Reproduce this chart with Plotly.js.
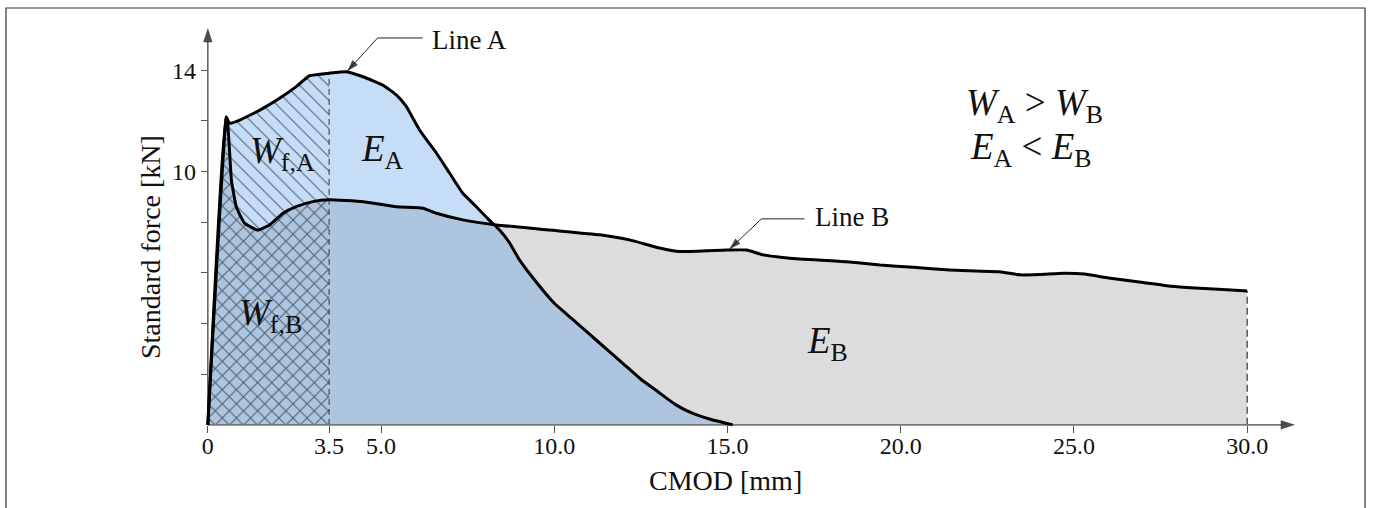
<!DOCTYPE html>
<html>
<head>
<meta charset="utf-8">
<script src="https://cdn.plot.ly/plotly-3.0.1.min.js"></script>
<style>html,body{margin:0;padding:0;background:#fff;}#chart{width:1373px;height:508px;}</style>
</head>
<body>
<div id="chart"></div>
<script>
// ---- data ----
const xA = [0, 0.53, 0.63, 0.92, 1.12, 1.59, 2.07, 2.55, 2.94, 3.5, 4.0, 4.48, 5.05, 5.44, 5.73, 6.11, 6.6, 6.98, 7.36, 7.75, 8.13, 8.42, 8.7, 9.0, 9.5, 10.0, 10.5, 11.0, 11.5, 12.0, 12.5, 13.0, 13.5, 14.0, 14.5, 15.15];
const yA = [0, 12.15, 11.9, 12.03, 12.16, 12.49, 12.89, 13.35, 13.78, 13.88, 13.94, 13.74, 13.41, 13.02, 12.56, 11.64, 10.72, 9.93, 9.14, 8.61, 8.07, 7.69, 7.2, 6.5, 5.6, 4.8, 4.2, 3.6, 3.0, 2.4, 1.8, 1.3, 0.8, 0.45, 0.22, 0];
const xB = [0, 0.53, 0.58, 0.63, 0.68, 0.82, 1.06, 1.44, 1.78, 2.17, 2.55, 3.03, 3.5, 4.48, 5.44, 6.21, 6.6, 7.36, 8.33, 9.87, 11.31, 12.17, 13.04, 13.62, 14.97, 15.55, 16.03, 16.8, 18.43, 19.4, 20.36, 21.42, 22.86, 23.43, 24.0, 24.7, 25.3, 26.0, 27.0, 27.8, 28.5, 29.3, 30.0];
const yB = [0, 12.15, 11.77, 10.72, 9.66, 8.61, 7.96, 7.69, 7.89, 8.35, 8.61, 8.81, 8.88, 8.81, 8.61, 8.55, 8.35, 8.09, 7.89, 7.69, 7.5, 7.3, 6.98, 6.84, 6.9, 6.9, 6.71, 6.58, 6.44, 6.31, 6.22, 6.11, 6.04, 5.92, 5.93, 5.98, 5.95, 5.8, 5.62, 5.47, 5.4, 5.34, 5.28];
const wLimit = 3.5;     // CMOD limit for W_f
const eLimit = 30.0;    // CMOD limit for E
const xTickVals = [0, 3.5, 5, 10, 15, 20, 25, 30];
const xTickText = ['0', '3.5', '5.0', '10.0', '15.0', '20.0', '25.0', '30.0'];
const yTickVals = [10, 14];
const yTickText = ['10', '14'];
const yMinorVals = [2, 4, 6, 8, 12];

// ---- layout helpers ----
const W = 1373, H = 508, ML = 194, MR = 60, MT = 22, MB = 73;
const PW = W - ML - MR, PH = H - MT - MB;
const xr = [-0.4, 31.9], yr = [-0.4, 15.9];
const px = v => (v - ML) / PW;
const py = v => (H - MB - v) / PH;
const FONT = 'Liberation Serif, Times New Roman, serif';

const subset = (xs, ys, lim) => {
  const ox = [], oy = [];
  xs.forEach((x, i) => { if (x <= lim + 1e-9) { ox.push(x); oy.push(ys[i]); } });
  return [ox, oy];
};
const [xA0, yA0] = subset(xA, yA, wLimit);
const [xB0, yB0] = subset(xB, yB, wLimit);
const yAatW = yA[xA.indexOf(wLimit)];
const yBatE = yB[xB.indexOf(eLimit)];

const none = {width: 0, color: 'rgba(0,0,0,0)'};
const arrowTrace = (xs, ys, lineColor, lineW, headColor, headSize) => ({
  x: xs, y: ys, type: 'scatter', mode: 'lines+markers', cliponaxis: false,
  line: {color: lineColor, width: lineW},
  marker: {symbol: xs.map((_, i) => i === xs.length - 1 ? 'arrow' : 'circle'),
           size: xs.map((_, i) => i === xs.length - 1 ? headSize : 0),
           angleref: 'previous', color: headColor, line: {width: 0}},
  hoverinfo: 'skip', showlegend: false
});

const traces = [
  {x: xB, y: yB, type: 'scatter', mode: 'lines', fill: 'tozeroy', fillcolor: '#dcdcdc', line: none, hoverinfo: 'skip', showlegend: false},
  {x: xA, y: yA, type: 'scatter', mode: 'lines', fill: 'tozeroy', fillcolor: 'rgba(74,149,227,0.32)', line: none, hoverinfo: 'skip', showlegend: false},
  {x: xA0, y: yA0, type: 'scatter', mode: 'lines', fill: 'tozeroy', fillcolor: 'rgba(0,0,0,0)',
   fillpattern: {shape: '\\', bgcolor: 'rgba(0,0,0,0)', fgcolor: '#4d5b6e', size: 10, solidity: 0.1},
   line: none, hoverinfo: 'skip', showlegend: false},
  {x: xB0, y: yB0, type: 'scatter', mode: 'lines', fill: 'tozeroy', fillcolor: 'rgba(0,0,0,0)',
   fillpattern: {shape: '/', bgcolor: 'rgba(0,0,0,0)', fgcolor: '#4d5b6e', size: 10, solidity: 0.1},
   line: none, hoverinfo: 'skip', showlegend: false},
  {x: [wLimit, wLimit], y: [0, yAatW], type: 'scatter', mode: 'lines', line: {color: '#333', width: 1, dash: '6px,4px'}, hoverinfo: 'skip', showlegend: false},
  {x: [eLimit, eLimit], y: [0, yBatE], type: 'scatter', mode: 'lines', line: {color: '#333', width: 1.2, dash: '7px,4px'}, hoverinfo: 'skip', showlegend: false},
  // axes with arrow heads
  arrowTrace([0, 31.38], [0, 0], '#777', 1.8, '#000', 15),
  arrowTrace([0, 0], [0, 15.66], '#333', 1.2, '#000', 15),
  // callouts
  arrowTrace([6.20, 4.90, 4.03], [15.27, 15.27, 13.97], '#222', 1, '#000', 12),
  arrowTrace([17.22, 15.98, 15.06], [8.13, 8.13, 6.94], '#222', 1, '#000', 12),
  {x: xB, y: yB, type: 'scatter', mode: 'lines', name: 'Line B', line: {color: '#000', width: 3, shape: 'spline', smoothing: 0.4}, showlegend: false},
  {x: xA, y: yA, type: 'scatter', mode: 'lines', name: 'Line A', line: {color: '#000', width: 3, shape: 'spline', smoothing: 0.4}, showlegend: false}
];

const big = {family: FONT, size: 37, color: '#111'};
const ann = [
  {x: 6.40, y: 15.2, xref: 'x', yref: 'y', text: 'Line A', showarrow: false, xanchor: 'left', yanchor: 'middle', font: {family: FONT, size: 27, color: '#111'}},
  {x: 17.46, y: 8.2, xref: 'x', yref: 'y', text: 'Line B', showarrow: false, xanchor: 'left', yanchor: 'middle', font: {family: FONT, size: 27, color: '#111'}},
  // area labels
  {x: 2.16, y: 10.7, xref: 'x', yref: 'y', text: '<i>W</i><sub>f,A</sub>', showarrow: false, font: big},
  {x: 5.05, y: 10.8, xref: 'x', yref: 'y', text: '<i>E</i><sub>A</sub>', showarrow: false, font: big},
  {x: 1.81, y: 4.3, xref: 'x', yref: 'y', text: '<i>W</i><sub>f,B</sub>', showarrow: false, font: big},
  {x: 17.9, y: 3.2, xref: 'x', yref: 'y', text: '<i>E</i><sub>B</sub>', showarrow: false, font: big},
  {x: 23.85, y: 12.6, xref: 'x', yref: 'y', text: '<i>W</i><sub>A</sub> &gt; <i>W</i><sub>B</sub>', showarrow: false, font: big},
  {x: 23.75, y: 10.85, xref: 'x', yref: 'y', text: '<i>E</i><sub>A</sub> &lt; <i>E</i><sub>B</sub>', showarrow: false, font: big},
  // axis titles
  {x: px(150), y: py(247), xref: 'paper', yref: 'paper', xanchor: 'center', yanchor: 'middle', text: 'Standard force [kN]', textangle: -90, showarrow: false, font: {family: FONT, size: 28, color: '#111'}},
  {x: px(725), y: py(480), xref: 'paper', yref: 'paper', xanchor: 'center', yanchor: 'middle', text: 'CMOD [mm]', showarrow: false, font: {family: FONT, size: 28, color: '#111'}}
];

const shapes = [
  {type: 'rect', xref: 'paper', yref: 'paper', x0: px(6), x1: px(1365), y0: py(512), y1: py(8), line: {color: '#333', width: 1.2}, fillcolor: 'rgba(0,0,0,0)', layer: 'below'}
];

const axisCommon = {showgrid: false, zeroline: false, showline: false, ticks: 'outside', ticklen: 7, tickwidth: 1, tickcolor: '#555',
  tickfont: {family: FONT, size: 24, color: '#111'}, fixedrange: true, tickmode: 'array'};

const layout = {
  width: W, height: H,
  margin: {l: ML, r: MR, t: MT, b: MB, pad: 0},
  paper_bgcolor: '#fff', plot_bgcolor: 'rgba(0,0,0,0)',
  showlegend: false,
  font: {family: FONT, color: '#111'},
  xaxis: Object.assign({}, axisCommon, {range: xr, anchor: 'free', position: (0 - yr[0]) / (yr[1] - yr[0]),
          tickvals: xTickVals, ticktext: xTickText, ticklabelstandoff: -8}),
  yaxis: Object.assign({}, axisCommon, {range: yr, anchor: 'free', position: (0 - xr[0]) / (xr[1] - xr[0]),
          tickvals: yTickVals, ticktext: yTickText,
          minor: {tickmode: 'array', tickvals: yMinorVals, ticks: 'outside', ticklen: 7, tickwidth: 1, tickcolor: '#555', showgrid: false}}),
  annotations: ann,
  shapes: shapes
};

Plotly.newPlot('chart', traces, layout, {displayModeBar: false, staticPlot: true});
</script>
</body>
</html>
